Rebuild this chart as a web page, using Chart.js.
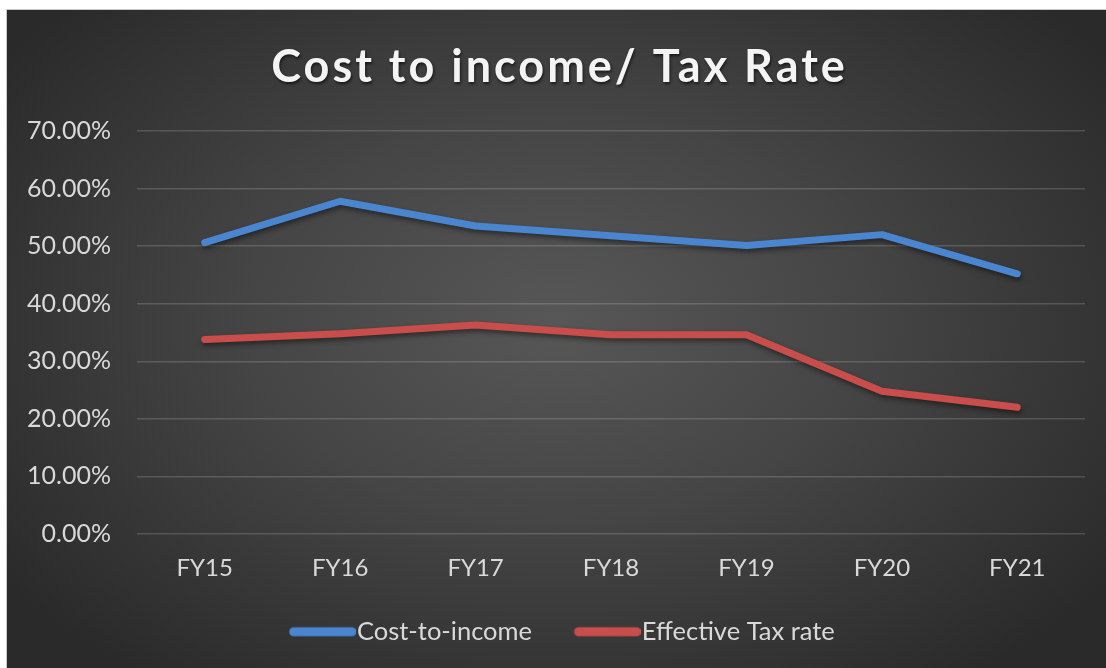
<!DOCTYPE html>
<html>
<head>
<meta charset="utf-8">
<script src="https://cdn.jsdelivr.net/npm/chart.js@4/dist/chart.umd.min.js"></script>
<style>
  html, body { margin: 0; padding: 0; background: #ffffff; }
  #frame {
    position: absolute; left: 6px; top: 9px; width: 1099px; height: 658px;
    border-left: 1px solid #c8c8c8; border-top: 1px solid #c8c8c8;
    background: radial-gradient(ellipse 62% 68% at 50% 47%, #575757 0%, #454545 45%, #2a2a2a 100%);
  }
  #frame canvas { display: block; }
</style>
</head>
<body>
<div id="frame"><canvas id="chart" width="1099" height="658"></canvas></div>
<script>
// Fiscal years on the category axis
const fiscalYears = ['FY15', 'FY16', 'FY17', 'FY18', 'FY19', 'FY20', 'FY21'];
// Ratios in percent
const costToIncome = [50.6, 57.8, 53.5, 51.8, 50.1, 52.0, 45.2];
const effectiveTaxRate = [33.8, 34.8, 36.3, 34.6, 34.6, 24.8, 22.0];
// Value axis range and step, in percent
const yAxisMin = 0;
const yAxisMax = 70;
const yAxisStep = 10;

const seriesNames = ['Cost-to-income', 'Effective Tax rate'];
const seriesColors = ['#4a86cf', '#c94d4a'];

const FONT = 'Lato, "Open Sans", "Liberation Sans", sans-serif';
const TEXT = '#d9d9d9';

// Thick rounded legend swatch, offset so it sits right against its label
function makeSwatch(color) {
  const c = document.createElement('canvas');
  c.width = 110; c.height = 12;
  const g = c.getContext('2d');
  g.strokeStyle = color; g.lineWidth = 9; g.lineCap = 'round';
  g.beginPath(); g.moveTo(48, 6); g.lineTo(106, 6); g.stroke();
  return c;
}

// Soft drop shadow beneath the series lines
const lineShadow = {
  id: 'lineShadow',
  beforeDatasetsDraw(chart) {
    const ctx = chart.ctx;
    ctx.save();
    ctx.shadowColor = 'rgba(0,0,0,0.45)';
    ctx.shadowBlur = 5;
    ctx.shadowOffsetX = 1;
    ctx.shadowOffsetY = 3;
  },
  afterDatasetsDraw(chart) { chart.ctx.restore(); }
};

// Spaced-out title lettering with a light shadow, centred on the whole canvas
const titleStyle = {
  id: 'titleStyle',
  beforeDraw(chart) {
    const tb = chart.titleBlock;
    if (!tb || tb._styled) return;
    const draw = tb.draw.bind(tb);
    tb.draw = function (area) {
      const ctx = chart.ctx;
      const pad = chart.options.layout.padding;
      ctx.save();
      ctx.translate((pad.right - pad.left) / 2 + 3, 0);
      ctx.letterSpacing = '3px';
      ctx.shadowColor = 'rgba(0,0,0,0.6)';
      ctx.shadowBlur = 3;
      ctx.shadowOffsetX = 1;
      ctx.shadowOffsetY = 2;
      draw(area);
      ctx.restore();
    };
    tb._styled = true;
  }
};

const seriesValues = [costToIncome, effectiveTaxRate];

new Chart(document.getElementById('chart'), {
  type: 'line',
  data: {
    labels: fiscalYears,
    datasets: seriesValues.map((vals, i) => ({
      label: seriesNames[i],
      data: vals,
      borderColor: seriesColors[i],
      backgroundColor: seriesColors[i],
      borderWidth: 7,
      borderCapStyle: 'round',
      borderJoinStyle: 'round',
      pointRadius: 0,
      pointHoverRadius: 0,
      tension: 0,
      fill: false
    }))
  },
  options: {
    responsive: false,
    animation: false,
    layout: { padding: { left: 0, right: 21, top: 0, bottom: 13.5 } },
    scales: {
      x: {
        offset: true,
        grid: { display: false, drawTicks: false },
        border: { display: false },
        ticks: { color: TEXT, font: { family: FONT, size: 24 }, padding: 20, maxRotation: 0 },
        afterFit(scale) { scale.height = 75; }
      },
      y: {
        min: yAxisMin, max: yAxisMax,
        grid: { color: 'rgba(255,255,255,0.16)', lineWidth: 1.5, drawTicks: false },
        border: { display: false },
        ticks: {
          stepSize: yAxisStep,
          color: TEXT,
          font: { family: FONT, size: 25 },
          padding: 26,
          callback: v => v.toFixed(2) + '%'
        },
        afterFit(scale) { scale.width = 130; }
      }
    },
    plugins: {
      title: {
        display: true,
        text: 'Cost to income/ Tax Rate',
        color: '#f4f4f4',
        font: { family: FONT, size: 45, weight: 'bold' },
        padding: { top: 30, bottom: 37 }
      },
      legend: {
        position: 'bottom',
        labels: {
          usePointStyle: true,
          pointStyleWidth: 87,
          padding: 10,
          color: TEXT,
          font: { family: FONT, size: 25.5 },
          generateLabels(chart) {
            return chart.data.datasets.map((ds, i) => ({
              text: ds.label,
              fillStyle: ds.borderColor,
              strokeStyle: ds.borderColor,
              lineWidth: 0,
              pointStyle: makeSwatch(ds.borderColor),
              fontColor: TEXT,
              hidden: false,
              datasetIndex: i
            }));
          }
        }
      },
      tooltip: { enabled: false }
    }
  },
  plugins: [lineShadow, titleStyle]
});
</script>
</body>
</html>
